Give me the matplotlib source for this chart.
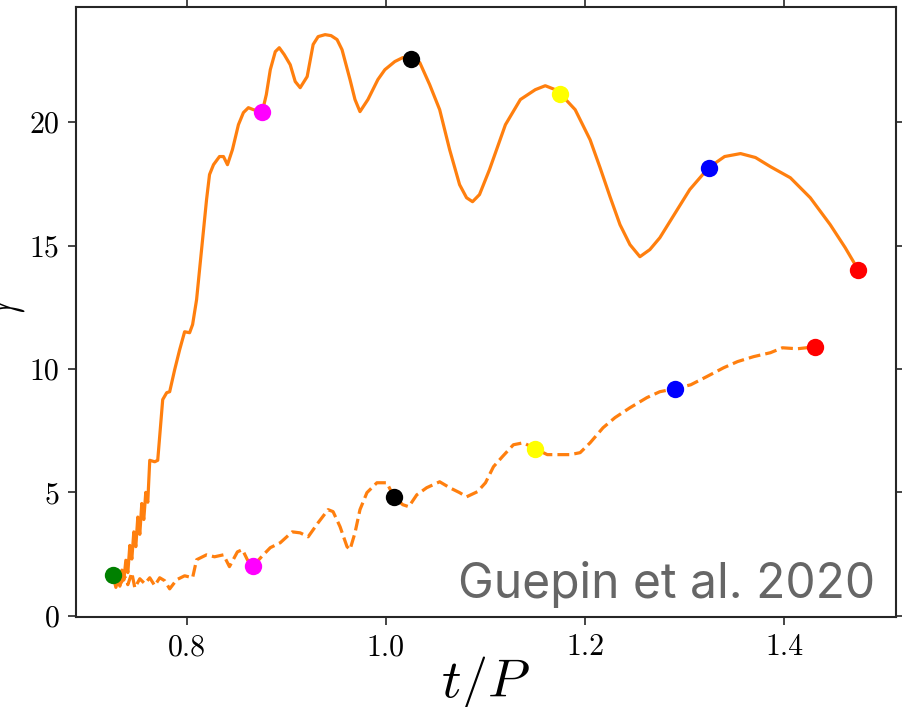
import numpy as np
import matplotlib
matplotlib.use('Agg')
import matplotlib.pyplot as plt

CONFIG = {
    'rcparams': {
        'font.family': 'serif',
        'font.serif': ['cmr10', 'DejaVu Serif'],
        'mathtext.fontset': 'cm',
        'axes.unicode_minus': False,
        'axes.formatter.use_mathtext': True,
        'xtick.labelsize': 21.5,
        'ytick.labelsize': 21.5,
    },
    'figsize': (9.03, 7.07),
    'dpi': 100,
    'axes_rect': [0.0842, 0.1273, 0.9080, 0.8621],
    'line_color': '#ff7f0e',
    'line_width': 2.3,
    'marker_size': 12.5,
    'spine_color': '#262626',
    'spine_width': 1.5,
    'credit_color': '#666666',
}

# solid curve (t/P, gamma)
solid_t = [0.726, 0.729, 0.731, 0.733, 0.735, 0.737, 0.739, 0.741, 0.743, 0.745, 0.747, 0.749,
           0.751, 0.753, 0.755, 0.757, 0.759, 0.761, 0.763, 0.768, 0.771, 0.776, 0.780, 0.783,
           0.788, 0.793, 0.798, 0.803, 0.806, 0.810, 0.813, 0.816, 0.820, 0.823, 0.827, 0.833,
           0.837, 0.841, 0.846, 0.852, 0.857, 0.862, 0.867, 0.876, 0.880, 0.884, 0.889, 0.893,
           0.898, 0.904, 0.909, 0.914, 0.921, 0.927, 0.932, 0.939, 0.945, 0.951, 0.956, 0.964,
           0.969, 0.974, 0.982, 0.992, 0.999, 1.009, 1.017, 1.025, 1.034, 1.044, 1.054, 1.064,
           1.074, 1.081, 1.087, 1.094, 1.104, 1.120, 1.135, 1.150, 1.160, 1.170, 1.175, 1.190,
           1.205, 1.215, 1.225, 1.235, 1.245, 1.255, 1.265, 1.275, 1.285, 1.305, 1.324, 1.340,
           1.356, 1.371, 1.386, 1.406, 1.426, 1.446, 1.461, 1.474]
solid_gamma = [1.66, 1.15, 1.45, 1.20, 1.85, 1.45, 2.25, 1.75, 2.85, 2.30, 3.40, 2.80,
               4.00, 3.30, 4.55, 3.90, 5.00, 4.60, 6.30, 6.24, 6.30, 8.76, 9.04, 9.08,
               9.97, 10.78, 11.51, 11.47, 11.80, 12.81, 14.03, 15.24, 16.86, 17.88, 18.28, 18.61,
               18.61, 18.28, 18.89, 19.90, 20.39, 20.59, 20.51, 20.43, 21.12, 22.13, 22.86, 23.02,
               22.74, 22.33, 21.65, 21.40, 21.85, 23.15, 23.47, 23.55, 23.51, 23.35, 22.94, 21.73,
               20.92, 20.43, 20.92, 21.73, 22.13, 22.46, 22.62, 22.58, 22.42, 21.52, 20.51, 18.89,
               17.47, 16.94, 16.78, 17.07, 18.08, 19.90, 20.92, 21.32, 21.48, 21.32, 21.16, 20.51,
               19.29, 18.16, 16.98, 15.85, 15.04, 14.55, 14.84, 15.32, 15.97, 17.27, 18.16, 18.61,
               18.73, 18.57, 18.20, 17.75, 16.94, 15.85, 14.92, 14.03]

# dashed curve (t/P, gamma)
dashed_t = [0.726, 0.731, 0.738, 0.741, 0.745, 0.748, 0.753, 0.758, 0.763, 0.768, 0.773, 0.778,
            0.783, 0.790, 0.798, 0.806, 0.810, 0.820, 0.828, 0.837, 0.843, 0.851, 0.856, 0.861,
            0.867, 0.877, 0.884, 0.894, 0.906, 0.914, 0.922, 0.932, 0.942, 0.947, 0.954, 0.961,
            0.964, 0.969, 0.974, 0.981, 0.991, 1.001, 1.008, 1.017, 1.023, 1.031, 1.041, 1.054,
            1.064, 1.074, 1.081, 1.092, 1.100, 1.108, 1.117, 1.128, 1.138, 1.150, 1.162, 1.172,
            1.185, 1.195, 1.205, 1.218, 1.230, 1.245, 1.262, 1.275, 1.290, 1.306, 1.322, 1.339,
            1.353, 1.369, 1.386, 1.398, 1.413, 1.431]
dashed_gamma = [1.66, 1.13, 1.58, 1.26, 1.74, 1.13, 1.50, 1.30, 1.54, 1.22, 1.54, 1.42,
                1.09, 1.46, 1.62, 1.54, 2.27, 2.47, 2.39, 2.47, 1.99, 2.59, 2.68, 2.27,
                2.03, 2.47, 2.76, 2.96, 3.40, 3.36, 3.20, 3.77, 4.30, 4.22, 3.61, 2.80,
                2.68, 3.36, 4.30, 4.99, 5.39, 5.39, 4.82, 4.50, 4.42, 4.90, 5.19, 5.43,
                5.19, 4.99, 4.82, 5.03, 5.39, 6.04, 6.45, 6.93, 7.01, 6.77, 6.53, 6.53,
                6.53, 6.61, 7.01, 7.62, 8.03, 8.43, 8.84, 9.08, 9.20, 9.36, 9.69, 10.05,
                10.30, 10.50, 10.66, 10.86, 10.82, 10.90]

# snapshot markers
marker_colors = ['green', '#ff00ff', 'black', '#ffff00', '#0000ff', '#ff0000']
solid_marker_t = [0.726, 0.876, 1.025, 1.175, 1.324, 1.474]
solid_marker_gamma = [1.66, 20.43, 22.58, 21.16, 18.16, 14.03]
dashed_marker_t = [0.867, 1.008, 1.150, 1.290, 1.431]
dashed_marker_gamma = [2.03, 4.82, 6.77, 9.20, 10.90]

xticks = [0.8, 1.0, 1.2, 1.4]
yticks = [0, 5, 10, 15, 20]


def main():
    plt.rcParams.update(CONFIG['rcparams'])
    fig = plt.figure(figsize=CONFIG['figsize'], dpi=CONFIG['dpi'])
    ax = fig.add_axes(CONFIG['axes_rect'])

    c = CONFIG['line_color']
    lw = CONFIG['line_width']
    ax.plot(solid_t, solid_gamma, color=c, lw=lw, zorder=2)
    ax.plot(dashed_t, dashed_gamma, color=c, lw=lw, ls='--', zorder=2)

    ms = CONFIG['marker_size']
    for t, g, col in zip(solid_marker_t, solid_marker_gamma, marker_colors):
        ax.plot(t, g, 'o', color=col, ms=ms, mec='none', zorder=4)
    for t, g, col in zip(dashed_marker_t, dashed_marker_gamma, marker_colors[1:]):
        ax.plot(t, g, 'o', color=col, ms=ms, mec='none', zorder=4)

    ax.set_xlim(0.689, 1.512)
    ax.set_ylim(-0.05, 24.65)
    ax.set_xticks(xticks)
    ax.set_xticklabels([f'{v:.1f}' for v in xticks])
    ax.set_yticks(yticks)
    ax.set_yticklabels([str(v) for v in yticks])
    ax.tick_params(direction='out', length=6, width=1.2, color=CONFIG['spine_color'],
                   top=True, right=True, labeltop=False, labelright=False, pad=6)
    for s in ax.spines.values():
        s.set_linewidth(CONFIG['spine_width'])
        s.set_color(CONFIG['spine_color'])

    ax.set_xlabel(r'$t/P$', fontsize=39, labelpad=-5)
    ax.set_ylabel(r'$\gamma$', fontsize=39)
    ax.yaxis.set_label_coords(-0.06, 0.5)

    ax.text(0.9745, 0.031, 'Guepin et al. 2020', transform=ax.transAxes, ha='right',
            va='baseline', fontsize=34.5, family='Inter', color=CONFIG['credit_color'])

    fig.savefig('out.png', dpi=CONFIG['dpi'])
    plt.close(fig)


if __name__ == '__main__':
    main()
